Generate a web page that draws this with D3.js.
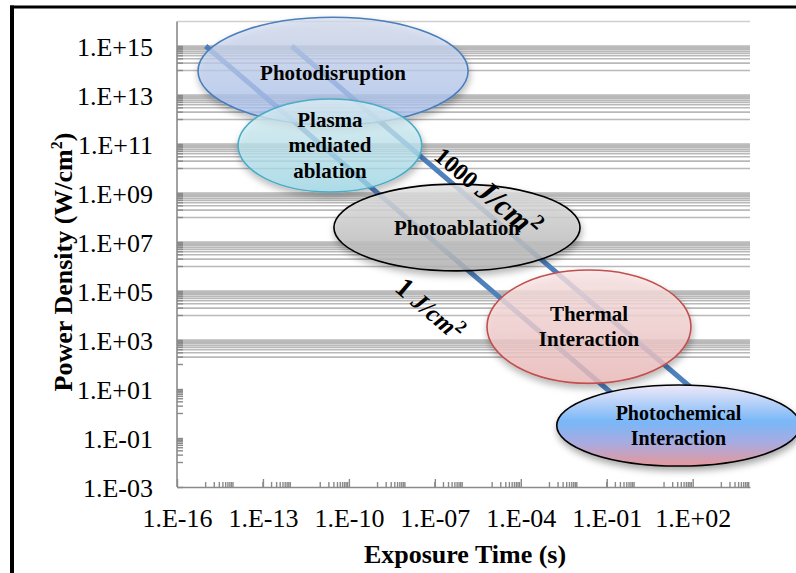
<!DOCTYPE html>
<html><head><meta charset="utf-8">
<script src="https://cdn.jsdelivr.net/npm/d3@7"></script>
<style>html,body{margin:0;padding:0;background:#fff;}svg{display:block;}</style>
</head><body>
<svg id="chart" width="796" height="573"></svg>
<script>
// ---------- data ----------
const xTickValues = [1e-16, 1e-13, 1e-10, 1e-7, 1e-4, 1e-1, 1e2];
const xTickLabels = ["1.E-16", "1.E-13", "1.E-10", "1.E-07", "1.E-04", "1.E-01", "1.E+02"];
const yTickValues = [1e-3, 1e-1, 1e1, 1e3, 1e5, 1e7, 1e9, 1e11, 1e13, 1e15];
const yTickLabels = ["1.E-03", "1.E-01", "1.E+01", "1.E+03", "1.E+05", "1.E+07", "1.E+09", "1.E+11", "1.E+13", "1.E+15"];
const xMinorDecades = [1e-15, 1e-13, 1e-11, 1e-9, 1e-7, 1e-5, 1e-3, 1e-1, 1e1, 1e3];
const yMinorDecades = [1e-2, 1e0, 1e2, 1e4, 1e6, 1e8, 1e10, 1e12, 1e14];
const minorSteps = [1, 2, 3, 4, 5, 6, 7, 8, 9];
const yGridMin = 200;
const xTitle = "Exposure Time (s)";
const yTitle = "Power Density (W/cm";

// fluence lines (J/cm2): P = F / t
const fluences = [1, 1000];
const fluenceNumText = ["1 ", "1000 "];
const linePowerStart = 1e15;
const linePowerEnd = 1;
const fluenceLabelTime = [3.6e-9, 8.5e-8];
const fluenceLabelPower = [1.1e5, 2.6e10];

// interaction regions
const regionNames = [["Photodisruption"], ["Plasma", "mediated", "ablation"], ["Photoablation"], ["Thermal", "Interaction"], ["Photochemical", "Interaction"]];
const regionTimeMin = [5.4e-16, 1.35e-14, 3.0e-11, 6.6e-6, 1.8e-3];
const regionTimeMax = [1.45e-6, 3.5e-8, 1.17e-2, 87, 5.6e5];
const regionPowerMin = [6.0e11, 1.1e9, 6.6e5, 17, 7.2e-3];
const regionPowerMax = [1.5e16, 6.9e12, 2.3e9, 7.2e5, 14.5];

// ---------- drawing ----------
const svg = d3.select("#chart");
const serif = "'Liberation Serif','Times New Roman',serif";
const x = d3.scaleLog().domain([1e-16, 1e4]).range([177, 750]);
const y = d3.scaleLog().domain([1e-3, 1e16]).range([487, 21.5]);

const defs = svg.append("defs");
const gradStops = [
  [["0%", "#d6def0"], ["100%", "#a9c2f3"]],
  [["0%", "#e2f4f9"], ["100%", "#9edbeb"]],
  [["0%", "#e4e4e4"], ["100%", "#b4b4b4"]],
  [["0%", "#fce6e6"], ["100%", "#eebcbc"]],
  [["0%", "#efe9f8"], ["45%", "#79b7f8"], ["72%", "#a9abe0"], ["100%", "#e6979a"]]
];
const strokes = ["#4a7ebb", "#4bacc6", "#000", "#c0504d", "#000"];
const fillOpacity = [0.72, 0.72, 0.8, 0.78, 1];
gradStops.forEach((st, i) => {
  const g = defs.append("linearGradient").attr("id", "g" + i).attr("x1", 0).attr("y1", 0).attr("x2", 0).attr("y2", 1);
  st.forEach(s => g.append("stop").attr("offset", s[0]).attr("stop-color", s[1]));
});
const f = defs.append("filter").attr("id", "sh").attr("x", "-20%").attr("y", "-20%").attr("width", "140%").attr("height", "150%");
f.append("feDropShadow").attr("dx", 1).attr("dy", 4).attr("stdDeviation", 3.5).attr("flood-color", "#000").attr("flood-opacity", 0.35);

// frame
svg.append("line").attr("x1", 10).attr("x2", 796).attr("y1", 7).attr("y2", 7).attr("stroke", "#000").attr("stroke-width", 3);
svg.append("line").attr("x1", 12).attr("x2", 12).attr("y1", 5.5).attr("y2", 573).attr("stroke", "#000").attr("stroke-width", 4);

const [x0, x1] = x.range();
// gridlines
const gridVals = [];
yMinorDecades.forEach(d => minorSteps.forEach(k => { if (d * k >= yGridMin) gridVals.push(d * k); }));
yTickValues.forEach(v => { if (v >= yGridMin) gridVals.push(v); });
gridVals.push(1e16);
svg.append("g").selectAll("line").data(gridVals).join("line")
  .attr("x1", x0).attr("x2", x1).attr("y1", d => y(d)).attr("y2", d => y(d))
  .attr("stroke", d => d === 1e16 ? "#cfcfcf" : "#b9b9b9").attr("stroke-width", 1.6);

// minor ticks
const yMinor = [];
yMinorDecades.forEach(d => minorSteps.forEach(k => yMinor.push(d * k)));
svg.append("g").selectAll("line").data(yMinor).join("line")
  .attr("x1", x0).attr("x2", x0 + 6).attr("y1", d => y(d)).attr("y2", d => y(d))
  .attr("stroke", "#8a8a8a").attr("stroke-width", 1.4);
const xMinor = [];
xMinorDecades.forEach(d => minorSteps.forEach(k => { if (d * k <= 1e4) xMinor.push(d * k); }));
svg.append("g").selectAll("line").data(xMinor).join("line")
  .attr("x1", d => x(d)).attr("x2", d => x(d)).attr("y1", 487).attr("y2", 482)
  .attr("stroke", "#8a8a8a").attr("stroke-width", 1.4);

// axes
const gx = svg.append("g").attr("transform", "translate(0,487)")
  .call(d3.axisBottom(x).tickValues(xTickValues).tickFormat((d, i) => xTickLabels[i]).tickSizeInner(-8).tickSizeOuter(0));
const gy = svg.append("g").attr("transform", `translate(${x0},0)`)
  .call(d3.axisLeft(y).tickValues(yTickValues).tickFormat((d, i) => yTickLabels[i]).tickSizeInner(-6).tickSizeOuter(0));
[gx, gy].forEach(g => {
  g.select(".domain").attr("stroke", "#8a8a8a").attr("stroke-width", 1.6);
  g.selectAll(".tick line").attr("stroke", "#8a8a8a").attr("stroke-width", 1.4);
  g.selectAll("text").attr("font-family", serif).attr("font-size", 26).attr("fill", "#000");
});
gy.select(".domain").attr("d", `M0,${y(1e16)}V487`);
gx.selectAll("text").attr("y", 40).attr("dy", 0);
gy.selectAll("text").attr("x", -24).attr("dy", "0.35em");

// axis titles
svg.append("text").attr("x", 465).attr("y", 563).attr("text-anchor", "middle")
  .attr("font-family", serif).attr("font-size", 26).attr("font-weight", "bold").text(xTitle);
const yt = svg.append("text").attr("transform", "translate(72,262) rotate(-90)").attr("text-anchor", "middle")
  .attr("font-family", serif).attr("font-size", 26).attr("font-weight", "bold");
yt.append("tspan").text(yTitle);
yt.append("tspan").attr("font-size", 16).attr("dy", -10).text("2");
yt.append("tspan").attr("dy", 10).text(")");

// fluence lines
const lineGen = d3.line().x(d => x(d[0])).y(d => y(d[1]));
const fl = fluences.map(F => [[F / linePowerStart, linePowerStart], [F / linePowerEnd, linePowerEnd]]);
svg.append("g").selectAll("path").data(fl).join("path")
  .attr("d", lineGen).attr("fill", "none").attr("stroke", "#4f81bd").attr("stroke-width", 5);

// regions
const regions = regionNames.map((n, i) => {
  const xa = x(regionTimeMin[i]), xb = x(regionTimeMax[i]);
  const ya = y(regionPowerMax[i]), yb = y(regionPowerMin[i]);
  return { lines: n, cx: (xa + xb) / 2, cy: (ya + yb) / 2, rx: (xb - xa) / 2, ry: (yb - ya) / 2, i };
});
svg.append("g").selectAll("ellipse").data(regions).join("ellipse")
  .attr("cx", d => d.cx).attr("cy", d => d.cy).attr("rx", d => d.rx).attr("ry", d => d.ry)
  .attr("fill", d => `url(#g${d.i})`).attr("fill-opacity", d => fillOpacity[d.i])
  .attr("stroke", d => strokes[d.i]).attr("stroke-width", 1.6).attr("filter", "url(#sh)");

// fluence labels
const ang = Math.atan2(y(fl[0][1][1]) - y(fl[0][0][1]), x(fl[0][1][0]) - x(fl[0][0][0])) * 180 / Math.PI;
fluences.forEach((F, i) => {
  const t = svg.append("text")
    .attr("transform", `translate(${x(fluenceLabelTime[i])},${y(fluenceLabelPower[i])}) rotate(${ang})`)
    .attr("font-family", serif).attr("font-weight", "bold").attr("fill", "#000");
  t.append("tspan").attr("font-size", i ? 24 : 28).text(fluenceNumText[i]);
  t.append("tspan").attr("font-size", i ? 31 : 25).attr("font-style", "italic").text("J/cm");
  t.append("tspan").attr("font-size", i ? 21 : 18).attr("dy", i ? -13 : -10).text("2");
});

// region labels
regions.forEach(r => {
  const n = r.lines.length, lh = 25.5;
  const t = svg.append("text").attr("text-anchor", "middle").attr("font-family", serif)
    .attr("font-weight", "bold").attr("font-size", r.i === 4 ? 20 : 21).attr("fill", "#000");
  r.lines.forEach((s, j) => {
    t.append("tspan").attr("x", r.cx).attr("y", r.cy + (j - (n - 1) / 2) * lh + 7 + (r.i === 0 ? 2 : 0)).text(s);
  });
});
</script>
</body></html>
